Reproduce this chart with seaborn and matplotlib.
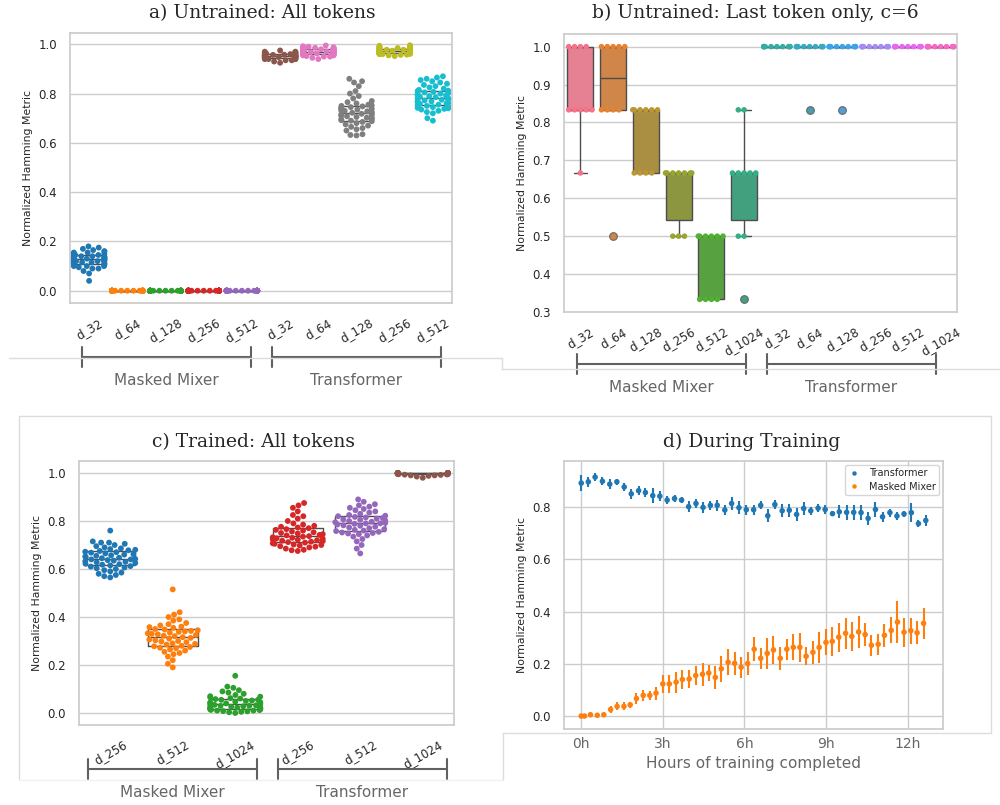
import warnings
import numpy as np
import pandas as pd
import seaborn as sns
import matplotlib.pyplot as plt
from matplotlib.lines import Line2D

warnings.filterwarnings('ignore')

# ---- a) Untrained: all tokens ----
a_keys = ['mm_32', 'mm_64', 'mm_128', 'mm_256', 'mm_512', 'tf_32', 'tf_64', 'tf_128', 'tf_256', 'tf_512']
a_ticks = ['d_32', 'd_64', 'd_128', 'd_256', 'd_512', 'd_32', 'd_64', 'd_128', 'd_256', 'd_512']
a_mm_32 = [0.04, 0.07, 0.08, 0.09, 0.09, 0.095, 0.10, 0.10, 0.10, 0.105, 0.11, 0.11, 0.11, 0.11, 0.115, 0.115,
           0.12, 0.12, 0.12, 0.12, 0.12, 0.125, 0.125, 0.125, 0.125, 0.13, 0.13, 0.13, 0.13, 0.13, 0.135, 0.135,
           0.135, 0.14, 0.14, 0.14, 0.14, 0.145, 0.145, 0.15, 0.15, 0.15, 0.155, 0.155, 0.16, 0.16, 0.165, 0.17,
           0.175, 0.18]
a_mm_64 = [0.0] * 50
a_mm_128 = [0.0] * 50
a_mm_256 = [0.0] * 50
a_mm_512 = [0.0] * 50
a_tf_32 = [0.925, 0.93, 0.935, 0.935, 0.94, 0.94, 0.94, 0.94, 0.942, 0.943, 0.945, 0.945, 0.945, 0.945, 0.945,
           0.947, 0.948, 0.95, 0.95, 0.95, 0.95, 0.95, 0.95, 0.95, 0.95, 0.952, 0.953, 0.955, 0.955, 0.955, 0.955,
           0.955, 0.955, 0.957, 0.958, 0.96, 0.96, 0.96, 0.96, 0.96, 0.96, 0.962, 0.965, 0.965, 0.965, 0.965,
           0.968, 0.97, 0.97, 0.975]
a_tf_64 = [0.94, 0.945, 0.95, 0.95, 0.952, 0.955, 0.955, 0.957, 0.958, 0.96, 0.96, 0.96, 0.962, 0.963, 0.964,
           0.965, 0.965, 0.966, 0.967, 0.968, 0.968, 0.969, 0.97, 0.97, 0.97, 0.971, 0.972, 0.972, 0.973, 0.974,
           0.975, 0.975, 0.976, 0.977, 0.978, 0.978, 0.979, 0.98, 0.98, 0.981, 0.982, 0.983, 0.984, 0.985, 0.986,
           0.987, 0.988, 0.99, 0.992, 0.995]
a_tf_128 = [0.63, 0.632, 0.635, 0.65, 0.655, 0.66, 0.665, 0.67, 0.675, 0.68, 0.685, 0.688, 0.69, 0.692, 0.695,
            0.698, 0.70, 0.702, 0.705, 0.708, 0.71, 0.712, 0.715, 0.718, 0.72, 0.722, 0.725, 0.728, 0.73, 0.732,
            0.735, 0.738, 0.74, 0.742, 0.745, 0.748, 0.75, 0.752, 0.755, 0.76, 0.765, 0.77, 0.78, 0.79, 0.80,
            0.81, 0.83, 0.845, 0.85, 0.86]
a_tf_256 = [0.952, 0.955, 0.957, 0.958, 0.96, 0.96, 0.961, 0.962, 0.963, 0.963, 0.964, 0.965, 0.965, 0.966,
            0.967, 0.968, 0.968, 0.969, 0.97, 0.97, 0.97, 0.971, 0.972, 0.972, 0.973, 0.973, 0.974, 0.975, 0.975,
            0.976, 0.977, 0.978, 0.978, 0.979, 0.98, 0.98, 0.981, 0.982, 0.983, 0.984, 0.985, 0.986, 0.987,
            0.988, 0.989, 0.99, 0.991, 0.992, 0.994, 0.996]
a_tf_512 = [0.69, 0.70, 0.72, 0.725, 0.73, 0.735, 0.738, 0.74, 0.742, 0.745, 0.748, 0.75, 0.752, 0.755, 0.758,
            0.76, 0.762, 0.765, 0.768, 0.77, 0.772, 0.775, 0.777, 0.78, 0.78, 0.782, 0.785, 0.787, 0.79, 0.792,
            0.795, 0.797, 0.80, 0.802, 0.805, 0.807, 0.81, 0.812, 0.815, 0.82, 0.825, 0.83, 0.835, 0.84, 0.845,
            0.85, 0.855, 0.86, 0.865, 0.87]

# ---- b) Untrained: last token only, c=6 ----
b_keys = ['mm_32', 'mm_64', 'mm_128', 'mm_256', 'mm_512', 'mm_1024',
          'tf_32', 'tf_64', 'tf_128', 'tf_256', 'tf_512', 'tf_1024']
b_ticks = ['d_32', 'd_64', 'd_128', 'd_256', 'd_512', 'd_1024'] * 2
b_mm_32 = [1.0, 1.0, 1.0, 1.0, 0.8333, 0.8333, 0.8333, 0.8333, 0.8333, 0.6667]
b_mm_64 = [1.0, 1.0, 1.0, 1.0, 1.0, 0.8333, 0.8333, 0.8333, 0.8333, 0.5]
b_mm_128 = [0.8333, 0.8333, 0.8333, 0.8333, 0.8333, 0.8333, 0.6667, 0.6667, 0.6667, 0.6667]
b_mm_256 = [0.6667, 0.6667, 0.6667, 0.6667, 0.6667, 0.6667, 0.6667, 0.5, 0.5, 0.5]
b_mm_512 = [0.5, 0.5, 0.5, 0.5, 0.5, 0.5, 0.3333, 0.3333, 0.3333, 0.3333]
b_mm_1024 = [0.8333, 0.8333, 0.6667, 0.6667, 0.6667, 0.6667, 0.6667, 0.5, 0.5, 0.3333]
b_tf_32 = [1.0, 1.0, 1.0, 1.0, 1.0, 1.0, 1.0, 1.0, 1.0, 1.0]
b_tf_64 = [1.0, 1.0, 1.0, 1.0, 1.0, 1.0, 1.0, 1.0, 1.0, 0.8333]
b_tf_128 = [1.0, 1.0, 1.0, 1.0, 1.0, 1.0, 1.0, 1.0, 1.0, 0.8333]
b_tf_256 = [1.0, 1.0, 1.0, 1.0, 1.0, 1.0, 1.0, 1.0, 1.0, 1.0]
b_tf_512 = [1.0, 1.0, 1.0, 1.0, 1.0, 1.0, 1.0, 1.0, 1.0, 1.0]
b_tf_1024 = [1.0, 1.0, 1.0, 1.0, 1.0, 1.0, 1.0, 1.0, 1.0, 1.0]

# ---- c) Trained: all tokens ----
c_keys = ['mm_256', 'mm_512', 'mm_1024', 'tf_256', 'tf_512', 'tf_1024']
c_ticks = ['d_256', 'd_512', 'd_1024'] * 2
c_mm_256 = [0.565, 0.57, 0.575, 0.58, 0.585, 0.59, 0.595, 0.60, 0.603, 0.606, 0.61, 0.612, 0.615, 0.618, 0.62,
            0.622, 0.625, 0.628, 0.63, 0.632, 0.635, 0.637, 0.64, 0.64, 0.642, 0.645, 0.647, 0.65, 0.652, 0.655,
            0.657, 0.66, 0.662, 0.665, 0.668, 0.67, 0.672, 0.675, 0.678, 0.68, 0.683, 0.686, 0.69, 0.695, 0.70,
            0.705, 0.71, 0.71, 0.715, 0.76]
c_mm_512 = [0.19, 0.205, 0.22, 0.235, 0.245, 0.25, 0.255, 0.26, 0.265, 0.27, 0.272, 0.275, 0.278, 0.28, 0.285,
            0.288, 0.29, 0.295, 0.298, 0.30, 0.303, 0.306, 0.31, 0.313, 0.316, 0.32, 0.322, 0.325, 0.328, 0.33,
            0.332, 0.335, 0.338, 0.34, 0.342, 0.345, 0.348, 0.35, 0.355, 0.358, 0.36, 0.365, 0.37, 0.375, 0.385,
            0.39, 0.40, 0.41, 0.42, 0.515]
c_mm_1024 = [0.0, 0.003, 0.005, 0.007, 0.008, 0.01, 0.01, 0.012, 0.013, 0.015, 0.015, 0.017, 0.018, 0.02, 0.02,
             0.022, 0.023, 0.025, 0.026, 0.028, 0.03, 0.03, 0.032, 0.034, 0.035, 0.037, 0.039, 0.04, 0.042,
             0.044, 0.045, 0.047, 0.05, 0.052, 0.055, 0.055, 0.058, 0.06, 0.062, 0.065, 0.068, 0.07, 0.075,
             0.08, 0.085, 0.09, 0.095, 0.105, 0.11, 0.155]
c_tf_256 = [0.675, 0.678, 0.68, 0.685, 0.69, 0.693, 0.695, 0.698, 0.70, 0.702, 0.705, 0.707, 0.71, 0.712, 0.714,
            0.716, 0.718, 0.72, 0.722, 0.724, 0.726, 0.728, 0.73, 0.732, 0.735, 0.737, 0.74, 0.742, 0.745, 0.748,
            0.75, 0.753, 0.756, 0.76, 0.763, 0.766, 0.77, 0.773, 0.776, 0.78, 0.785, 0.79, 0.80, 0.81, 0.82,
            0.825, 0.84, 0.855, 0.865, 0.875]
c_tf_512 = [0.665, 0.685, 0.70, 0.715, 0.725, 0.735, 0.74, 0.745, 0.748, 0.75, 0.752, 0.755, 0.758, 0.76, 0.763,
            0.766, 0.77, 0.773, 0.776, 0.78, 0.782, 0.785, 0.788, 0.79, 0.79, 0.792, 0.795, 0.797, 0.80, 0.802,
            0.805, 0.807, 0.81, 0.812, 0.815, 0.817, 0.82, 0.822, 0.825, 0.83, 0.835, 0.84, 0.845, 0.85, 0.855,
            0.86, 0.865, 0.87, 0.88, 0.89]
c_tf_1024 = [0.98, 0.985, 0.988, 0.99, 0.99, 0.992, 0.993, 0.994, 0.995, 0.995, 0.996, 0.996, 0.997, 0.997,
             0.997, 0.998, 0.998, 0.998, 0.998, 0.999, 0.999, 0.999, 0.999, 0.999, 1.0, 1.0, 1.0, 1.0, 1.0,
             1.0, 1.0, 1.0, 1.0, 1.0, 1.0, 1.0, 1.0, 1.0, 1.0, 1.0]

# ---- d) During training ----
tf_hours = [0.0, 0.26, 0.51, 0.78, 1.05, 1.31, 1.58, 1.84, 2.11, 2.36, 2.63, 2.89, 3.16, 3.43, 3.69, 3.95,
            4.22, 4.48, 4.75, 5.00, 5.28, 5.53, 5.80, 6.07, 6.34, 6.60, 6.86, 7.12, 7.39, 7.65, 7.92, 8.18,
            8.44, 8.71, 8.97, 9.24, 9.49, 9.76, 10.02, 10.29, 10.55, 10.82, 11.08, 11.35, 11.61, 11.87, 12.14,
            12.40, 12.67]
tf_mean = [0.892, 0.897, 0.915, 0.899, 0.888, 0.897, 0.877, 0.851, 0.863, 0.856, 0.844, 0.842, 0.827, 0.833,
           0.827, 0.802, 0.814, 0.799, 0.807, 0.807, 0.789, 0.814, 0.798, 0.790, 0.790, 0.807, 0.767, 0.810,
           0.786, 0.788, 0.772, 0.795, 0.786, 0.796, 0.791, 0.775, 0.782, 0.780, 0.780, 0.779, 0.757, 0.791,
           0.763, 0.779, 0.766, 0.774, 0.779, 0.737, 0.749]
tf_err = [0.03, 0.02, 0.015, 0.015, 0.02, 0.012, 0.015, 0.018, 0.018, 0.018, 0.03, 0.018, 0.015, 0.015, 0.012,
          0.02, 0.018, 0.02, 0.018, 0.02, 0.02, 0.025, 0.025, 0.02, 0.02, 0.015, 0.025, 0.018, 0.025, 0.025,
          0.025, 0.025, 0.015, 0.015, 0.018, 0.01, 0.025, 0.03, 0.03, 0.03, 0.025, 0.03, 0.02, 0.015, 0.015,
          0.012, 0.035, 0.015, 0.02]
mm_hours = [0.0, 0.12, 0.34, 0.59, 0.83, 1.08, 1.32, 1.57, 1.80, 2.03, 2.28, 2.52, 2.75, 3.00, 3.24, 3.49,
            3.72, 3.97, 4.21, 4.46, 4.69, 4.93, 5.15, 5.40, 5.64, 5.88, 6.12, 6.36, 6.60, 6.84, 7.07, 7.32,
            7.56, 7.80, 8.04, 8.27, 8.52, 8.75, 9.00, 9.23, 9.47, 9.72, 9.95, 10.20, 10.44, 10.67, 10.92,
            11.15, 11.40, 11.63, 11.87, 12.12, 12.35, 12.59]
mm_mean = [0.0, 0.0, 0.005, 0.003, 0.005, 0.025, 0.037, 0.037, 0.043, 0.067, 0.079, 0.079, 0.088, 0.123, 0.123,
           0.130, 0.140, 0.142, 0.155, 0.160, 0.165, 0.148, 0.181, 0.206, 0.202, 0.187, 0.201, 0.256, 0.221,
           0.240, 0.253, 0.221, 0.256, 0.263, 0.263, 0.229, 0.244, 0.263, 0.282, 0.286, 0.302, 0.317, 0.305,
           0.322, 0.312, 0.271, 0.275, 0.309, 0.328, 0.360, 0.321, 0.327, 0.319, 0.355]
mm_err = [0.003, 0.003, 0.003, 0.003, 0.003, 0.012, 0.015, 0.015, 0.012, 0.02, 0.02, 0.018, 0.025, 0.036,
          0.035, 0.04, 0.035, 0.035, 0.035, 0.045, 0.03, 0.045, 0.05, 0.05, 0.045, 0.04, 0.045, 0.045, 0.04,
          0.06, 0.055, 0.045, 0.04, 0.05, 0.055, 0.035, 0.045, 0.06, 0.05, 0.055, 0.055, 0.06, 0.055, 0.06,
          0.045, 0.04, 0.04, 0.045, 0.05, 0.08, 0.055, 0.05, 0.045, 0.06]
hour_ticks = [0, 3, 6, 9, 12]
hour_labels = ['0h', '3h', '6h', '9h', '12h']

W, H = 1000, 805


def to_frame(keys, values):
    return pd.DataFrame({'model': np.repeat(keys, [len(v) for v in values]),
                         'score': np.concatenate(values)})


def fig_line(fig, x0, y0, x1, y1, color='#dcdcdc', lw=1.0):
    fig.add_artist(Line2D([x0 / W, x1 / W], [1 - y0 / H, 1 - y1 / H], color=color, lw=lw))


def bracket(fig, x0, x1, y, label):
    c = '0.38'
    fig_line(fig, x0, y, x1, y, color=c, lw=1.5)
    fig_line(fig, x0, y - 10, x0, y + 10, color=c, lw=1.5)
    fig_line(fig, x1, y - 10, x1, y + 10, color=c, lw=1.5)
    fig.text((x0 + x1) / 2 / W, 1 - (y + 23) / H, label, ha='center', va='center',
             fontsize=11, color='0.4')


def style_cat_axis(ax, ticks):
    ax.set_xticks(range(len(ticks)))
    ax.set_xticklabels(ticks, rotation=30, fontsize=8.5)
    ax.tick_params(axis='y', labelsize=8.5)
    ax.set_xlabel('')
    ax.set_ylabel('Normalized Hamming Metric', fontsize=7.8)


sns.set_theme(style='whitegrid')
fig = plt.figure(figsize=(10, 8.05), dpi=100)

ax_a = fig.add_axes([70 / W, 1 - 303 / H, 382 / W, 270 / H])
ax_b = fig.add_axes([564 / W, 1 - 312 / H, 393 / W, 278 / H])
ax_c = fig.add_axes([79 / W, 1 - 725 / H, 375 / W, 264 / H])
ax_d = fig.add_axes([564 / W, 1 - 729 / H, 379 / W, 268 / H])

tab10 = sns.color_palette('tab10', 10)
husl = sns.color_palette('husl', 12)

# a) swarm over outline boxes
df_a = to_frame(a_keys, [a_mm_32, a_mm_64, a_mm_128, a_mm_256, a_mm_512,
                         a_tf_32, a_tf_64, a_tf_128, a_tf_256, a_tf_512])
sns.boxplot(data=df_a, x='model', y='score', order=a_keys, fill=False, color='0.3', whis=0,
            showcaps=False, showfliers=False, linewidth=1, ax=ax_a)
sns.swarmplot(data=df_a, x='model', y='score', order=a_keys, hue='model', hue_order=a_keys,
              palette=tab10, size=4.2, legend=False, zorder=3, ax=ax_a)
style_cat_axis(ax_a, a_ticks)

# b) filled boxes + swarm, outliers drawn on top in the box colour
df_b = to_frame(b_keys, [b_mm_32, b_mm_64, b_mm_128, b_mm_256, b_mm_512, b_mm_1024,
                         b_tf_32, b_tf_64, b_tf_128, b_tf_256, b_tf_512, b_tf_1024])
sns.boxplot(data=df_b, x='model', y='score', order=b_keys, hue='model', hue_order=b_keys,
            palette=husl, linecolor='0.3', linewidth=1, legend=False,
            flierprops=dict(marker='o', markersize=5.5, markeredgecolor='0.4', markeredgewidth=0.8), ax=ax_b)
sns.swarmplot(data=df_b, x='model', y='score', order=b_keys, hue='model', hue_order=b_keys,
              palette=husl, size=4, legend=False, ax=ax_b)
for line in ax_b.lines:
    if line.get_marker() == 'o' and len(line.get_xdata()) > 0:
        i = int(round(float(np.asarray(line.get_xdata())[0])))
        line.set_markerfacecolor(sns.desaturate(husl[i], 0.75))
        line.set_zorder(4)
style_cat_axis(ax_b, b_ticks)

# c) trained
df_c = to_frame(c_keys, [c_mm_256, c_mm_512, c_mm_1024, c_tf_256, c_tf_512, c_tf_1024])
sns.boxplot(data=df_c, x='model', y='score', order=c_keys, fill=False, color='0.3', whis=0,
            showcaps=False, showfliers=False, linewidth=1, ax=ax_c)
sns.swarmplot(data=df_c, x='model', y='score', order=c_keys, hue='model', hue_order=c_keys,
              palette=tab10[:6], size=4.2, legend=False, zorder=3, ax=ax_c)
style_cat_axis(ax_c, c_ticks)

# d) during training
df_d = pd.concat([
    pd.DataFrame({'hours': tf_hours, 'metric': tf_mean, 'model': 'Transformer'}),
    pd.DataFrame({'hours': mm_hours, 'metric': mm_mean, 'model': 'Masked Mixer'}),
])
ax_d.errorbar(tf_hours, tf_mean, yerr=tf_err, fmt='none', ecolor=tab10[0], elinewidth=1.5)
ax_d.errorbar(mm_hours, mm_mean, yerr=mm_err, fmt='none', ecolor=tab10[1], elinewidth=1.5)
sns.scatterplot(data=df_d, x='hours', y='metric', hue='model', hue_order=['Transformer', 'Masked Mixer'],
                palette=tab10[:2], s=16, linewidth=0, zorder=3, ax=ax_d)
ax_d.set_xticks(hour_ticks)
ax_d.set_xticklabels(hour_labels, fontsize=10, color='0.4')
ax_d.tick_params(axis='y', labelsize=8.5)
ax_d.tick_params(axis='x', pad=0)
ax_d.set_xlabel('Hours of training completed', fontsize=11, color='0.4', labelpad=3)
ax_d.set_ylabel('Normalized Hamming Metric', fontsize=7.8)
ax_d.legend(loc='upper right', fontsize=7, markerscale=0.8, handlelength=1.2, handletextpad=0.9,
            borderpad=0.35, labelspacing=0.35, borderaxespad=0.4)

# titles
title_kw = dict(ha='center', va='center', fontsize=13.5, family='DejaVu Serif')
fig.text(262 / W, 1 - 13 / H, 'a) Untrained: All tokens', **title_kw)
fig.text(755 / W, 1 - 13 / H, 'b) Untrained: Last token only, c=6', **title_kw)
fig.text(254 / W, 1 - 442 / H, 'c) Trained: All tokens', **title_kw)
fig.text(752 / W, 1 - 442 / H, 'd) During Training', **title_kw)

# group brackets
bracket(fig, 82, 251, 357, 'Masked Mixer')
bracket(fig, 272, 441, 357, 'Transformer')
bracket(fig, 577, 746, 364, 'Masked Mixer')
bracket(fig, 767, 936, 364, 'Transformer')
bracket(fig, 88, 257, 769, 'Masked Mixer')
bracket(fig, 278, 447, 769, 'Transformer')

# panel frame remnants
fig_line(fig, 9, 358, 502, 358)
fig_line(fig, 502, 358, 502, 369)
fig_line(fig, 502, 369, 1000, 369)
fig_line(fig, 19, 416, 991, 416)
fig_line(fig, 19, 416, 19, 779)
fig_line(fig, 991, 416, 991, 733)
fig_line(fig, 503, 733, 991, 733)
fig_line(fig, 503, 733, 503, 780)
fig_line(fig, 19, 780, 503, 780, color='#f0f0f0')

fig.savefig('out.png', dpi=100)
plt.close(fig)
